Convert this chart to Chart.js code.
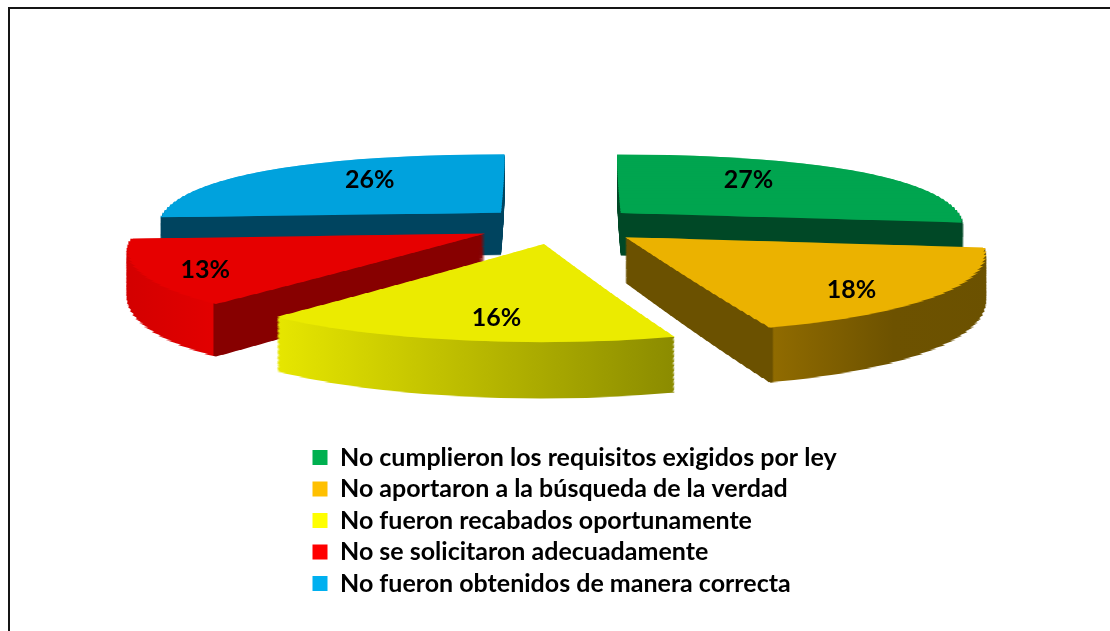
<!DOCTYPE html>
<html>
<head>
<meta charset="utf-8">
<script src="https://cdn.jsdelivr.net/npm/chart.js@4.4.1/dist/chart.umd.min.js"></script>
<style>
  html, body { margin: 0; padding: 0; background: #ffffff; }
  #wrap { position: relative; width: 1110px; height: 631px; overflow: hidden; }
  #frame { position: absolute; left: 8px; top: 7px; width: 1400px; height: 900px;
           border-left: 2px solid #151515; border-top: 2px solid #151515; }
  #box { position: absolute; left: 0; top: 0; width: 1110px; height: 631px; }
</style>
</head>
<body>
<div id="wrap">
  <div id="frame"></div>
  <div id="box"><canvas id="chart"></canvas></div>
</div>
<script>
// ---------------- data ----------------
const categories = [
  'No cumplieron los requisitos exigidos por ley',
  'No aportaron a la búsqueda de la verdad',
  'No fueron recabados oportunamente',
  'No se solicitaron adecuadamente',
  'No fueron obtenidos de manera correcta'
];
const percentages = [27, 18, 16, 13, 26];

// ---------------- style ----------------
const legendColors = ['#00B050', '#FFC000', '#FFFF00', '#FF0000', '#00B0F0'];
const topColors    = ['#00A54F', '#EBB200', '#EBEB00', '#E60000', '#00A2DD'];
const sideShades = [
  { from: 600, to: 1000, stops: [[0, '#004826'], [1, '#004826']] },
  { from: 620, to: 1000, stops: [[0, '#6b5100'], [0.40, '#6b5100'], [0.405, '#906b00'], [0.72, '#6d5200'], [1, '#6b5100']] },
  { from: 270, to: 680,  stops: [[0, '#e8e800'], [1, '#8a8a00']] },
  { from: 120, to: 490,  stops: [[0, '#d20000'], [0.25, '#e20000'], [0.255, '#870000'], [1, '#870000']] },
  { from: 150, to: 520,  stops: [[0, '#00445f'], [1, '#00445f']] }
];
const labelRadius = [0.65, 0.81, 0.79, 0.84, 0.65];
const labelNudgeDeg = [-10, 7, -3, -3, 7];

// ---------------- 3D view (perspective approximation) ----------------
const EXPLODE = 0.24;          // explosion, in pie radii
const CX = 560;                // screen x of pie centre
const projY  = v => 225 + 77.2 * v + 14.2 * v * v;   // screen y of top face at depth v
const projSX = v => 345 + 49 * v + 21.4 * v * v;      // px per radius horizontally
const projD  = v => 44 + 10 * v;                      // extrusion height in px
const V_MIN = -1.3, V_MAX = 1.3, N_STRIPS = 64;
const DV = (V_MAX - V_MIN) / N_STRIPS;
const LAYERS = 44;

const pie3d = {
  id: 'pie3d',
  beforeDatasetsDraw(chart) {
    const ctx = chart.ctx;
    const dpr = chart.currentDevicePixelRatio || 1;
    const arcs = chart.getDatasetMeta(0).data;
    const slices = arcs.map((arc, i) => {
      const mid = (arc.startAngle + arc.endAngle) / 2;
      const ex = EXPLODE * Math.cos(mid), ey = EXPLODE * Math.sin(mid);
      let lo = 0, hi = 0;
      for (let k = 0; k <= 64; k++) {
        const s = Math.sin(arc.startAngle + (arc.endAngle - arc.startAngle) * k / 64);
        lo = Math.min(lo, s); hi = Math.max(hi, s);
      }
      return { arc, i, mid, ex, ey, vlo: ey + lo, vhi: ey + hi };
    }).sort((a, b) => a.ey - b.ey);

    for (const s of slices) {
      const arc = s.arc, R = arc.outerRadius, saved = arc.options;
      const shade = sideShades[s.i];
      const k0 = Math.max(0, Math.floor((s.vlo - V_MIN) / DV));
      const k1 = Math.min(N_STRIPS - 1, Math.floor((s.vhi - V_MIN) / DV));
      const strips = [];
      for (let k = k0; k <= k1; k++) {
        const vi = V_MIN + k * DV, vj = vi + DV, vm = vi + DV / 2;
        const sx = projSX(vm), y0 = projY(vi), slope = (projY(vj) - y0) / DV;
        const a = sx / R, e = CX + (s.ex - arc.x / R) * sx;
        const d = slope / R, f0 = y0 + (s.ey - vi) * slope - arc.y * d;
        const grad = ctx.createLinearGradient((shade.from - e) / a, 0, (shade.to - e) / a, 0);
        shade.stops.forEach(([t, c]) => grad.addColorStop(t, c));
        strips.push({
          vi, vj, a, e, d, f0, depth: projD(vm),
          sideOpts: Object.assign({}, saved, { backgroundColor: grad, borderWidth: 0, offset: 0, spacing: 0 }),
          topOpts: Object.assign({}, saved, { backgroundColor: topColors[s.i], borderWidth: 0, offset: 0, spacing: 0 })
        });
      }
      for (let l = LAYERS; l >= 0; l--) {
        for (const st of strips) {
          const off = st.depth * l / LAYERS;
          ctx.save();
          ctx.setTransform(st.a * dpr, 0, 0, st.d * dpr, st.e * dpr, (st.f0 + off) * dpr);
          const yTop = arc.y + (st.vi - s.ey) * R;
          const yBot = arc.y + (st.vj - s.ey) * R + 1.2 / st.d;
          ctx.beginPath();
          ctx.rect(arc.x - 2 * R, yTop, 4 * R, yBot - yTop);
          ctx.clip();
          arc.options = l === 0 ? st.topOpts : st.sideOpts;
          arc.draw(ctx);
          ctx.restore();
        }
      }
      arc.options = saved;
    }

    // percentage labels
    const total = percentages.reduce((p, c) => p + c, 0);
    ctx.save();
    ctx.setTransform(dpr, 0, 0, dpr, 0, 0);
    ctx.font = 'bold 25px Lato';
    ctx.fillStyle = '#000000';
    ctx.textAlign = 'center';
    ctx.textBaseline = 'middle';
    for (const s of slices) {
      const ang = s.mid + labelNudgeDeg[s.i] * Math.PI / 180;
      const r = labelRadius[s.i];
      const U = s.ex + r * Math.cos(ang), V = s.ey + r * Math.sin(ang);
      const txt = Math.round(percentages[s.i] / total * 100) + '%';
      ctx.fillText(txt, CX + U * projSX(V), projY(V));
    }
    ctx.restore();
    return false;
  }
};

new Chart(document.getElementById('chart'), {
  type: 'pie',
  data: {
    labels: categories,
    datasets: [{
      data: percentages,
      backgroundColor: legendColors,
      borderWidth: 0
    }]
  },
  options: {
    responsive: true,
    maintainAspectRatio: false,
    animation: false,
    layout: { padding: { left: 306, right: 250, top: 0, bottom: 25 } },
    plugins: {
      legend: {
        position: 'bottom',
        align: 'start',
        labels: {
          boxWidth: 15,
          boxHeight: 15,
          padding: 6.5,
          color: '#000000',
          font: { family: 'Lato', size: 25, weight: 'bold' }
        }
      },
      tooltip: { enabled: false }
    }
  },
  plugins: [pie3d]
});
</script>
</body>
</html>
